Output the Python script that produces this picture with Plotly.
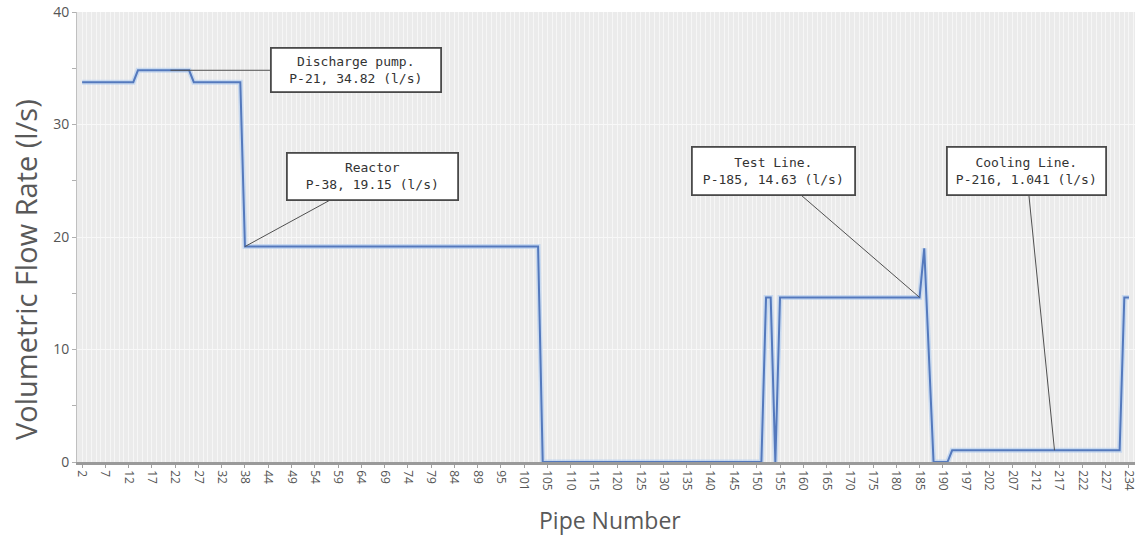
import plotly.graph_objects as go

# Pipe numbers in plotting order (every 5th one is labelled)
pipe_numbers = [
    2, 3, 4, 5, 6, 7, 8, 9, 10, 11,
    12, 13, 14, 15, 16, 17, 18, 19, 20, 21,
    22, 23, 24, 25, 26, 27, 28, 29, 30, 31,
    32, 33, 34, 35, 36, 38, 39, 40, 41, 42,
    44, 45, 46, 47, 48, 49, 50, 51, 52, 53,
    54, 55, 56, 57, 58, 59, 60, 61, 62, 63,
    64, 65, 66, 67, 68, 69, 70, 71, 72, 73,
    74, 75, 76, 77, 78, 79, 80, 81, 82, 83,
    84, 85, 86, 87, 88, 89, 90, 91, 92, 93,
    95, 96, 97, 98, 99, 101, 102, 103, 104, 100,
    105, 106, 107, 108, 109, 110, 111, 112, 113, 114,
    115, 116, 117, 118, 119, 120, 121, 122, 123, 124,
    125, 126, 127, 128, 129, 130, 131, 132, 133, 134,
    135, 136, 137, 138, 139, 140, 141, 142, 143, 144,
    145, 146, 147, 148, 149, 150, 151, 152, 153, 154,
    155, 156, 157, 158, 159, 160, 161, 162, 163, 164,
    165, 166, 167, 168, 169, 170, 171, 172, 173, 174,
    175, 176, 177, 178, 179, 180, 181, 182, 183, 184,
    185, 186, 187, 188, 189, 190, 191, 192, 193, 195,
    197, 198, 199, 200, 201, 202, 203, 204, 205, 206,
    207, 208, 209, 210, 211, 212, 213, 214, 215, 216,
    217, 218, 219, 220, 221, 222, 223, 224, 225, 226,
    227, 228, 229, 231, 233, 234,
]

# Volumetric flow rate (l/s) per pipe, same order
flow_rate = [
    33.76, 33.76, 33.76, 33.76, 33.76, 33.76, 33.76, 33.76, 33.76, 33.76,
    33.76, 33.76, 34.82, 34.82, 34.82, 34.82, 34.82, 34.82, 34.82, 34.82,
    34.82, 34.82, 34.82, 34.82, 33.76, 33.76, 33.76, 33.76, 33.76, 33.76,
    33.76, 33.76, 33.76, 33.76, 33.76, 19.15, 19.15, 19.15, 19.15, 19.15,
    19.15, 19.15, 19.15, 19.15, 19.15, 19.15, 19.15, 19.15, 19.15, 19.15,
    19.15, 19.15, 19.15, 19.15, 19.15, 19.15, 19.15, 19.15, 19.15, 19.15,
    19.15, 19.15, 19.15, 19.15, 19.15, 19.15, 19.15, 19.15, 19.15, 19.15,
    19.15, 19.15, 19.15, 19.15, 19.15, 19.15, 19.15, 19.15, 19.15, 19.15,
    19.15, 19.15, 19.15, 19.15, 19.15, 19.15, 19.15, 19.15, 19.15, 19.15,
    19.15, 19.15, 19.15, 19.15, 19.15, 19.15, 19.15, 19.15, 19.15, 0,
    0, 0, 0, 0, 0, 0, 0, 0, 0, 0,
    0, 0, 0, 0, 0, 0, 0, 0, 0, 0,
    0, 0, 0, 0, 0, 0, 0, 0, 0, 0,
    0, 0, 0, 0, 0, 0, 0, 0, 0, 0,
    0, 0, 0, 0, 0, 0, 0, 14.63, 14.63, 0,
    14.63, 14.63, 14.63, 14.63, 14.63, 14.63, 14.63, 14.63, 14.63, 14.63,
    14.63, 14.63, 14.63, 14.63, 14.63, 14.63, 14.63, 14.63, 14.63, 14.63,
    14.63, 14.63, 14.63, 14.63, 14.63, 14.63, 14.63, 14.63, 14.63, 14.63,
    14.63, 19.0, 9.5, 0, 0, 0, 0, 1.041, 1.041, 1.041,
    1.041, 1.041, 1.041, 1.041, 1.041, 1.041, 1.041, 1.041, 1.041, 1.041,
    1.041, 1.041, 1.041, 1.041, 1.041, 1.041, 1.041, 1.041, 1.041, 1.041,
    1.041, 1.041, 1.041, 1.041, 1.041, 1.041, 1.041, 1.041, 1.041, 1.041,
    1.041, 1.041, 1.041, 1.041, 14.63, 14.63,
]

y_ticks = [0, 10, 20, 30, 40]

# Callouts
callout_pipes = [21, 38, 185, 216]
callout_titles = ["Discharge pump.", "Reactor", "Test Line.", "Cooling Line."]

positions = list(range(len(pipe_numbers)))
tick_pos = positions[::5]
tick_text = [str(p) for p in pipe_numbers[::5]]

fig = go.Figure()
# soft halo under the line
fig.add_trace(go.Scatter(x=positions, y=flow_rate, mode="lines",
                         line=dict(color="rgba(175,203,240,0.6)", width=5),
                         hoverinfo="skip", showlegend=False))
fig.add_trace(go.Scatter(x=positions, y=flow_rate, mode="lines",
                         line=dict(color="#5479bd", width=2),
                         showlegend=False))

offsets = [(185, 0), (127.5, -69.6), (-146, -126), (-28, -279)]
sizes = [(166, 40), (167, 43), (159, 44), (155, 44)]
for pipe, title, (ax, ay), (w, h) in zip(callout_pipes, callout_titles, offsets, sizes):
    idx = pipe_numbers.index(pipe)
    val = flow_rate[idx]
    val_txt = f"{val:.3f}" if val < 10 else f"{val:.2f}"
    fig.add_annotation(
        x=idx, y=val, xref="x", yref="y",
        text=f"{title}<br>P-{pipe}, {val_txt} (l/s)",
        showarrow=True, arrowhead=0, arrowwidth=1, arrowcolor="#505050",
        ax=ax, ay=ay, standoff=0,
        bgcolor="white", bordercolor="#4a4a4a", borderwidth=1.8, borderpad=1,
        width=w, height=h, align="center", valign="middle",
        font=dict(family="DejaVu Sans Mono", size=13, color="#333333"),
    )

# Axis titles
fig.add_annotation(text="Volumetric Flow Rate (l/s)", textangle=-90,
                   xref="paper", yref="paper", x=0, y=(462 - 270) / 450,
                   xanchor="center", yanchor="middle", xshift=-51,
                   showarrow=False, font=dict(family="Open Sans", size=29, color="#595959"))
fig.add_annotation(text="Pipe Number",
                   xref="paper", yref="paper", x=0.5, y=0,
                   xanchor="center", yanchor="middle", yshift=-58, xshift=4,
                   showarrow=False, font=dict(family="Open Sans", size=23, color="#595959"))

fig.update_layout(
    width=1138, height=538,
    margin=dict(l=77, r=3, t=12, b=76),
    paper_bgcolor="white", plot_bgcolor="#ebebeb",
    font=dict(family="Open Sans", color="#555555"),
)
fig.update_xaxes(
    range=[-1.1, 226.3], automargin=False,
    tickmode="array", tickvals=tick_pos, ticktext=tick_text,
    tickangle=90, tickfont=dict(size=12, color="#555555"),
    ticklabeloverflow="allow",
    showgrid=True, gridcolor="#f6f6f6", gridwidth=1,
    minor=dict(tickmode="linear", tick0=0, dtick=1, showgrid=True,
               gridcolor="#f6f6f6", gridwidth=1),
    showline=True, linecolor="#9a9a9a", linewidth=2.5,
    ticks="outside", ticklen=3, tickcolor="#a0a0a0",
    zeroline=False,
)
fig.update_yaxes(
    range=[0, 40], automargin=False,
    tickmode="array", tickvals=y_ticks,
    tickfont=dict(size=14, color="#555555"),
    showgrid=True, gridcolor="#f8f8f8", gridwidth=1,
    minor=dict(tickmode="linear", tick0=0, dtick=5, ticks="outside", ticklen=4,
               tickcolor="#b0b0b0", showgrid=False),
    ticks="outside", ticklen=4, tickcolor="#b0b0b0",
    showline=True, linecolor="#c0c0c0", linewidth=1,
    zeroline=False,
)

fig.write_html("out.html", config={"displayModeBar": False},
               post_script="document.body.style.margin='0';document.body.style.overflow='hidden';")
